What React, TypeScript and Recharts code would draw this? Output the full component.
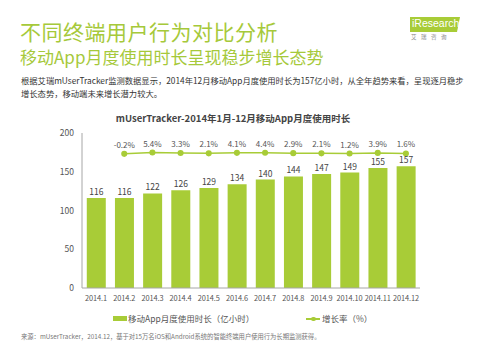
import React from 'react'
import {
  ComposedChart, Bar, Line, XAxis, YAxis, LabelList,
} from 'recharts'

// 月份 / 使用时长（亿小时）/ 环比增长率（%）
const months = ['2014.1', '2014.2', '2014.3', '2014.4', '2014.5', '2014.6', '2014.7', '2014.8', '2014.9', '2014.10', '2014.11', '2014.12']
const hours = [116, 116, 122, 126, 129, 134, 140, 144, 147, 149, 155, 157]
const growth = [null, -0.2, 5.4, 3.3, 2.1, 4.1, 4.4, 2.9, 2.1, 1.2, 3.9, 1.6]
const yTicks = [0, 50, 100, 150, 200]

const GREEN = '#a8cc37'
const FONT = '"Noto Sans CJK SC", "Noto Sans", sans-serif'

const data = months.map((m, i) => ({ month: m, hours: hours[i], growth: growth[i] }))

export default function App() {
  return (
    <div style={{ position: 'absolute', left: 0, top: 0, width: 480, height: 350, background: '#fff', fontFamily: FONT, overflow: 'hidden' }}>
      {/* 页头 */}
      <div style={{ position: 'absolute', left: 20, top: 16, fontSize: 21, color: '#a6c93a', whiteSpace: 'nowrap', letterSpacing: 0.5 }}>
        不同终端用户行为对比分析
      </div>
      <div style={{ position: 'absolute', left: 20, top: 44, fontSize: 17, color: '#a6c93a', whiteSpace: 'nowrap' }}>
        移动App月度使用时长呈现稳步增长态势
      </div>
      <div style={{ position: 'absolute', left: 21, top: 74, fontSize: 8.3, color: '#333', lineHeight: '13px', whiteSpace: 'nowrap' }}>
        <div>根据艾瑞mUserTracker监测数据显示，2014年12月移动App月度使用时长为157亿小时，从全年趋势来看，呈现逐月稳步</div>
        <div>增长态势，移动端未来增长潜力较大。</div>
      </div>

      {/* logo */}
      <div style={{ position: 'absolute', left: 410, top: 17, width: 50, height: 15, background: GREEN, clipPath: 'polygon(0 0, 100% 0, 94% 100%, 0 100%)' }} />
      <div style={{ position: 'absolute', left: 412, top: 17, fontSize: 10.5, color: '#fff', whiteSpace: 'nowrap', fontFamily: 'Arial, "Liberation Sans", sans-serif' }}>
        iResearch
      </div>
      <div style={{ position: 'absolute', left: 411, top: 33, fontSize: 5.5, color: '#888', whiteSpace: 'nowrap', letterSpacing: 4.5 }}>
        艾瑞咨询
      </div>

      {/* 图表标题 */}
      <div style={{ position: 'absolute', left: 0, top: 111, width: 466, textAlign: 'center', fontSize: 9.5, fontWeight: 'bold', color: '#444', whiteSpace: 'nowrap' }}>
        mUserTracker-2014年1月-12月移动App月度使用时长
      </div>

      <div style={{ position: 'absolute', left: 0, top: 0 }}>
        <ComposedChart
          width={480}
          height={350}
          data={data}
          margin={{ top: 133, right: 60, left: 50, bottom: 32 }}
          barCategoryGap="17%"
        >
          <XAxis
            dataKey="month"
            axisLine={{ stroke: '#a6a6a6' }}
            tickLine={false}
            interval={0}
            tick={{ fontSize: 7.4, fill: '#555', fontFamily: FONT, letterSpacing: -0.1 }}
            height={30}
          />
          <YAxis
            yAxisId="left"
            domain={[0, 200]}
            ticks={yTicks}
            axisLine={{ stroke: '#a6a6a6' }}
            tickLine={false}
            tick={{ fontSize: 8.5, fill: '#555', fontFamily: FONT }}
            width={32}
          />
          <YAxis yAxisId="right" orientation="right" domain={[-580, 90]} hide />
          <Bar yAxisId="left" dataKey="hours" fill={GREEN} isAnimationActive={false}>
            <LabelList dataKey="hours" position="top" offset={3} style={{ fontSize: 8.5, fill: '#444', fontFamily: FONT }} />
          </Bar>
          <Line
            yAxisId="right"
            dataKey="growth"
            stroke={GREEN}
            strokeWidth={1.5}
            dot={{ r: 2.3, fill: GREEN, stroke: GREEN }}
            activeDot={false}
            isAnimationActive={false}
          >
            <LabelList
              dataKey="growth"
              position="top"
              offset={6}
              formatter={(v: number | null) => (v === null || v === undefined ? '' : `${v}%`)}
              style={{ fontSize: 8, fill: '#555', fontFamily: FONT }}
            />
          </Line>
        </ComposedChart>
      </div>

      {/* 图例 */}
      <div style={{ position: 'absolute', left: 0, top: 312, width: 480, height: 14, fontSize: 8.5, color: '#555' }}>
        <div style={{ position: 'absolute', left: 113, top: 4, width: 14, height: 5, background: GREEN }} />
        <div style={{ position: 'absolute', left: 128, top: 0, whiteSpace: 'nowrap' }}>移动App月度使用时长（亿小时）</div>
        <div style={{ position: 'absolute', left: 306, top: 6, width: 14, height: 1.5, background: GREEN }} />
        <div style={{ position: 'absolute', left: 311, top: 4.5, width: 4.5, height: 4.5, borderRadius: '50%', background: GREEN }} />
        <div style={{ position: 'absolute', left: 322, top: 0, whiteSpace: 'nowrap' }}>增长率（%）</div>
      </div>

      <div style={{ position: 'absolute', left: 21, top: 332, fontSize: 6.3, color: '#777', whiteSpace: 'nowrap' }}>
        来源：mUserTracker，2014.12，基于对15万名iOS和Android系统的智能终端用户使用行为长期监测获得。
      </div>
    </div>
  )
}
